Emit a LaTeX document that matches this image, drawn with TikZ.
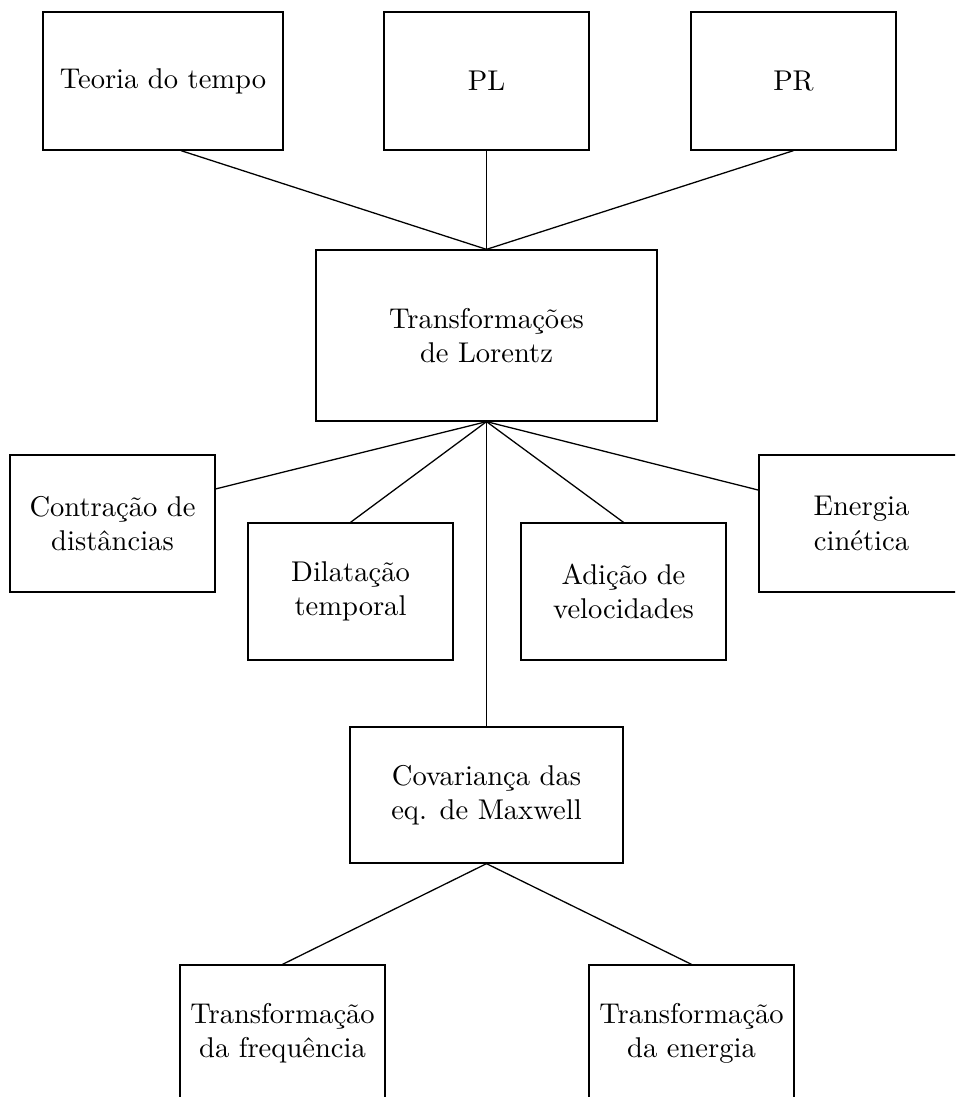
\documentclass[tikz,border=0pt]{standalone}
\begin{document}
\begin{tikzpicture}[x=0.35pt,y=-0.35pt,
  box/.style={draw, line width=0.45pt, align=center, inner sep=0pt, font=\fontsize{10}{12}\selectfont},
  link/.style={line width=0.45pt}]
\clip (0,0) rectangle (955,1097);
\node[box, minimum width=84pt, minimum height=48.3pt] (teoria) at (163,81) {Teoria do tempo};
\node[box, minimum width=71.75pt, minimum height=48.3pt] (pl) at (486.5,81) {PL};
\node[box, minimum width=71.75pt, minimum height=48.3pt] (pr) at (793.5,81) {PR};
\node[box, minimum width=119.35pt, minimum height=59.85pt] (lor) at (486.5,335.5) {Transformações\\de Lorentz};
\node[box, minimum width=71.75pt, minimum height=47.95pt] (con) at (112.5,523.5) {Contração de\\distâncias};
\node[box, minimum width=71.75pt, minimum height=47.95pt] (dil) at (350.5,591.5) {Dilatação\\temporal};
\node[box, minimum width=71.75pt, minimum height=47.95pt] (adi) at (623.5,591.5) {Adição de\\velocidades};
\node[box, minimum width=71.75pt, minimum height=47.95pt] (ene) at (861.5,523.5) {Energia\\cinética};
\node[box, minimum width=95.55pt, minimum height=47.6pt] (cov) at (486.5,795) {Covariança das\\eq. de Maxwell};
\node[box, minimum width=71.75pt, minimum height=47.95pt] (tfr) at (282.5,1033.5) {Transformação\\da frequência};
\node[box, minimum width=71.75pt, minimum height=47.95pt] (ten) at (691.5,1033.5) {Transformação\\da energia};
\draw[link] ([xshift=6.3pt]teoria.south) -- (lor.north);
\draw[link] (pl.south) -- (lor.north);
\draw[link] (pr.south) -- (lor.north);
\draw[link] (lor.south) -- ([yshift=12.1pt]con.east);
\draw[link] (lor.south) -- (dil.north);
\draw[link] (lor.south) -- (cov.north);
\draw[link] (lor.south) -- (adi.north);
\draw[link] (lor.south) -- ([yshift=11.7pt]ene.west);
\draw[link] (cov.south) -- (tfr.north);
\draw[link] (cov.south) -- (ten.north);
\end{tikzpicture}
\end{document}
